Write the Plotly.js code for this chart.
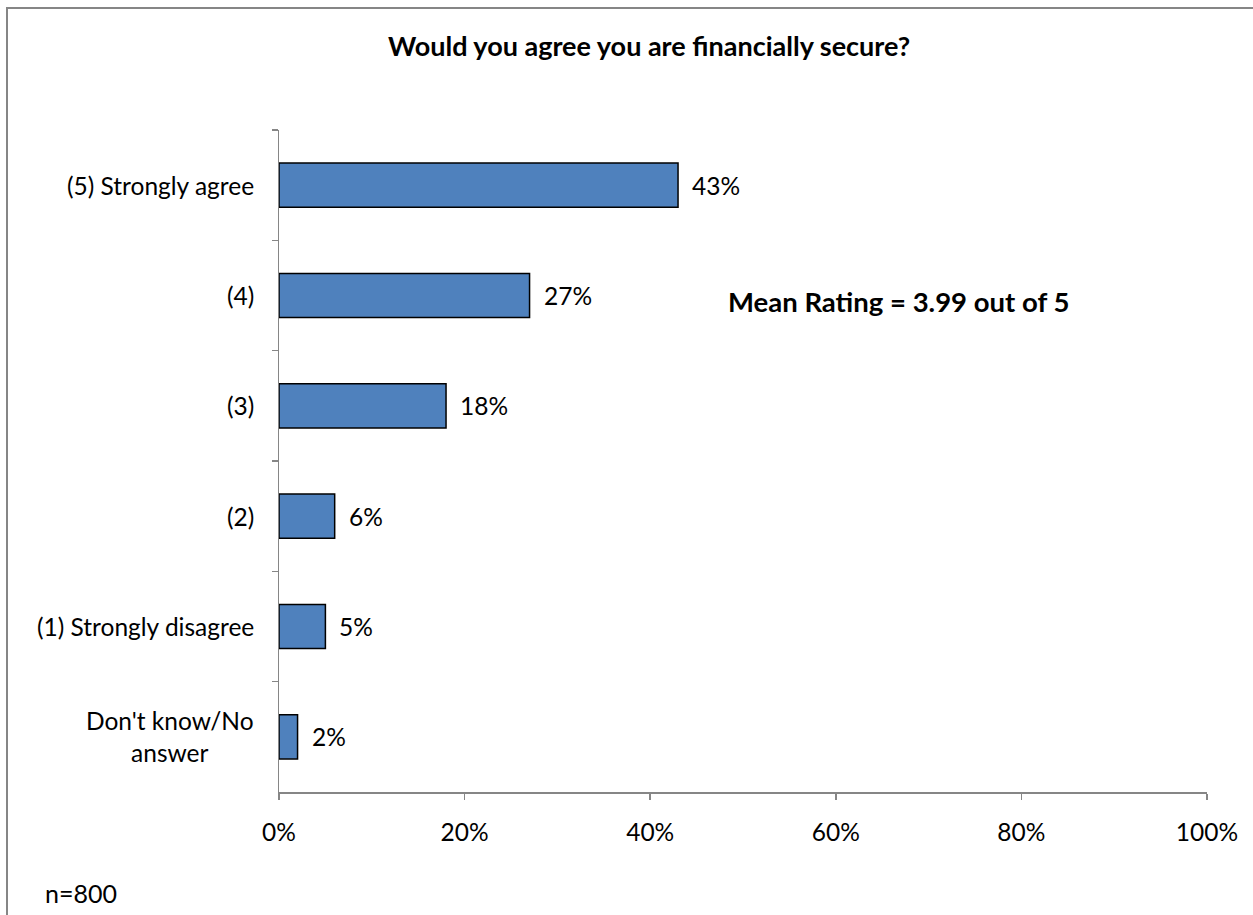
<!DOCTYPE html>
<html>
<head>
<meta charset="utf-8">
<script src="https://cdn.plot.ly/plotly-3.0.1.min.js"></script>
<style>html,body{margin:0;padding:0;background:#fff;}#chart{width:1253px;height:915px;}</style>
</head>
<body>
<div id="chart"></div>
<script>
var categories = ["(5) Strongly agree", "(4)", "(3)", "(2)", "(1) Strongly disagree", "Don't know/No<br>answer"];
var values = [0.43, 0.27, 0.18, 0.06, 0.05, 0.02];
var valueLabels = ["43%", "27%", "18%", "6%", "5%", "2%"];
var xTickVals = [0, 0.2, 0.4, 0.6, 0.8, 1.0];
var xTickText = ["0%", "20%", "40%", "60%", "80%", "100%"];
var titleText = "Would you agree you are financially secure?";
var meanText = "Mean Rating = 3.99 out of 5";
var noteText = "n=800";

var FONT = "Lato, 'Open Sans', sans-serif";
var axisGray = "#868686";

var trace = {
  type: "bar",
  orientation: "h",
  x: values,
  y: categories,
  marker: {color: "#4F81BD", line: {color: "#000000", width: 1.5}},
  width: 0.4,
  hoverinfo: "none"
};

var annotations = [];
categories.forEach(function (c, i) {
  annotations.push({
    xref: "paper", yref: "y", x: 0, y: c, text: c,
    xanchor: "right", yanchor: "middle", align: "center",
    xshift: -23, showarrow: false,
    font: {family: FONT, size: 24.5, color: "#000"}
  });
  annotations.push({
    xref: "x", yref: "y", x: values[i], y: c, text: valueLabels[i],
    xanchor: "left", yanchor: "middle", xshift: 12, showarrow: false,
    font: {family: FONT, size: 24.5, color: "#000"}
  });
});
annotations.push({
  xref: "paper", yref: "paper", x: 0.6676, y: 0.741, text: "<b>" + meanText + "</b>",
  xanchor: "center", yanchor: "middle", showarrow: false,
  font: {family: FONT, size: 27.5, color: "#000"}
});
annotations.push({
  xref: "paper", yref: "paper", x: -0.254, y: -0.152, text: noteText,
  xanchor: "left", yanchor: "middle", showarrow: false,
  font: {family: FONT, size: 25, color: "#000"}
});

var layout = {
  width: 1253, height: 915,
  margin: {l: 279, r: 46, t: 130, b: 123},
  paper_bgcolor: "#fff", plot_bgcolor: "#fff",
  showlegend: false,
  title: {
    text: "<b>" + titleText + "</b>",
    x: 0.518, xanchor: "center", y: 0.949, yanchor: "middle",
    font: {family: FONT, size: 27, color: "#000"}
  },
  xaxis: {
    range: [0, 1], tickvals: xTickVals, ticktext: xTickText,
    showgrid: false, zeroline: false,
    showline: true, linecolor: axisGray, linewidth: 1.5,
    ticks: "outside", ticklen: 6, tickcolor: axisGray, tickwidth: 1.5,
    ticklabelstandoff: 12,
    tickfont: {family: FONT, size: 24.5, color: "#000"}
  },
  yaxis: {
    type: "category", autorange: "reversed",
    showgrid: false, zeroline: false,
    showline: true, linecolor: axisGray, linewidth: 1.5,
    ticks: "outside", ticklen: 6, tickcolor: axisGray, tickwidth: 1.5,
    tickson: "boundaries", showticklabels: false
  },
  annotations: annotations,
  shapes: [{
    type: "rect", xref: "paper", yref: "paper",
    x0: -0.2931, x1: 1.2, y0: -0.5, y1: 1.1843,
    line: {color: axisGray, width: 2}, fillcolor: "rgba(0,0,0,0)", layer: "below"
  }]
};

Plotly.newPlot("chart", [trace], layout, {displayModeBar: false, staticPlot: true});
</script>
</body>
</html>
